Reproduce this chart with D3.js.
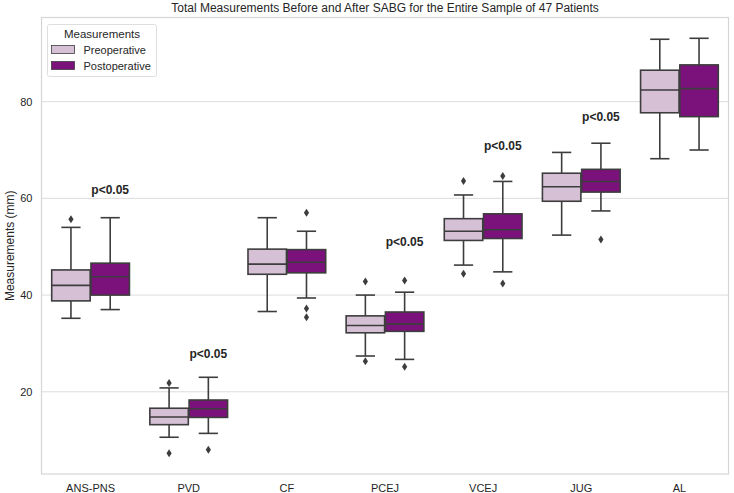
<!DOCTYPE html>
<html>
<head>
<meta charset="utf-8">
<script src="https://cdn.jsdelivr.net/npm/d3@7"></script>
<style>
  body { margin: 0; background: #fff; }
  svg { font-family: "Liberation Sans", Arial, sans-serif; }
</style>
</head>
<body>
<svg id="chart" width="734" height="493"></svg>
<script>
// categories and groups
const categories = ["ANS-PNS", "PVD", "CF", "PCEJ", "VCEJ", "JUG", "AL"];
const groups = ["Preoperative", "Postoperative"];
const groupColors = ["#d6c0d6", "#7b117b"];

// box stats: [whiskerLow, q1, median, q3, whiskerHigh]
const preStats = [
    [35.2, 38.8, 42.0, 45.2, 54.0],
    [10.6, 13.2, 14.8, 16.6, 20.8],
    [36.6, 44.3, 46.4, 49.5, 56.0],
    [27.4, 32.2, 33.7, 35.7, 40.0],
    [46.2, 51.3, 53.2, 55.8, 60.7],
    [52.4, 59.4, 62.4, 65.2, 69.5],
    [68.2, 77.7, 82.4, 86.5, 92.9]
];
const postStats = [
    [37.0, 40.0, 43.8, 46.6, 56.0],
    [11.4, 14.7, 16.5, 18.3, 23.0],
    [39.4, 44.6, 46.8, 49.4, 53.2],
    [26.7, 32.5, 34.0, 36.5, 40.6],
    [44.8, 51.7, 53.5, 56.8, 63.5],
    [57.4, 61.3, 63.5, 66.0, 71.4],
    [70.0, 76.9, 82.7, 87.6, 93.1]
];
// outliers
const preOutliers = [[55.7], [21.8, 7.3], [], [42.8, 26.3], [63.6, 44.4], [], []];
const postOutliers = [[], [8.0], [57.0, 37.2, 35.4], [43.0, 25.2], [64.6, 42.4], [51.5], []];

// significance labels (category, y value of text baseline)
const sigLabels = [
    ["ANS-PNS", 61.0],
    ["PVD", 27.0],
    ["PCEJ", 50.1],
    ["VCEJ", 70.0],
    ["JUG", 76.0]
];
const yTicks = [20, 40, 60, 80];

const svg = d3.select("#chart");
const margin = {left: 41.5, right: 5.5, top: 17.5, bottom: 19};
const width = 734 - margin.left - margin.right;
const height = 493 - margin.top - margin.bottom;

const g = svg.append("g").attr("transform", `translate(${margin.left},${margin.top})`);

const x = d3.scaleBand().domain(categories).range([0, width]).padding(0);
const xSub = d3.scaleBand().domain(groups).range([x.bandwidth() * 0.1, x.bandwidth() * 0.9]).padding(0);
const y = d3.scaleLinear().domain([3.0, 97.4]).range([height, 0]);

// gridlines
g.selectAll("line.grid")
    .data(yTicks)
    .join("line")
    .attr("class", "grid")
    .attr("x1", 0).attr("x2", width)
    .attr("y1", d => y(d)).attr("y2", d => y(d))
    .attr("stroke", "#dcdcdc")
    .attr("stroke-width", 1);

// frame
g.append("rect")
    .attr("x", 0).attr("y", 0)
    .attr("width", width).attr("height", height)
    .attr("fill", "none")
    .attr("stroke", "#d5d5d5")
    .attr("stroke-width", 1.2);

// y axis labels
const yAxis = g.append("g").call(d3.axisLeft(y).tickValues(yTicks).tickSize(0).tickPadding(9));
yAxis.select(".domain").remove();
yAxis.selectAll("text").attr("font-size", 11).attr("fill", "#262626").attr("font-family", "Liberation Sans, Arial, sans-serif");

// x axis labels
const xAxis = g.append("g")
    .attr("transform", `translate(0,${height})`)
    .call(d3.axisBottom(x).tickSize(0).tickPadding(10));
xAxis.select(".domain").remove();
xAxis.selectAll("text").attr("font-size", 11).attr("fill", "#262626").attr("font-family", "Liberation Sans, Arial, sans-serif");

const lineColor = "#3d3d3d";

// draw boxes
let boxData = [];
categories.forEach((c, i) => {
    boxData.push({cat: c, grp: groups[0], color: groupColors[0], s: preStats[i], out: preOutliers[i]});
    boxData.push({cat: c, grp: groups[1], color: groupColors[1], s: postStats[i], out: postOutliers[i]});
});

const bw = xSub.bandwidth() * 0.98;
const boxes = g.selectAll("g.box")
    .data(boxData)
    .join("g")
    .attr("class", "box")
    .attr("transform", d => `translate(${x(d.cat) + xSub(d.grp) + xSub.bandwidth() / 2},0)`);

// whiskers
boxes.append("line")
    .attr("x1", 0).attr("x2", 0)
    .attr("y1", d => y(d.s[0])).attr("y2", d => y(d.s[1]))
    .attr("stroke", lineColor).attr("stroke-width", 1.6);
boxes.append("line")
    .attr("x1", 0).attr("x2", 0)
    .attr("y1", d => y(d.s[3])).attr("y2", d => y(d.s[4]))
    .attr("stroke", lineColor).attr("stroke-width", 1.6);
// caps
boxes.append("line")
    .attr("x1", -bw / 4).attr("x2", bw / 4)
    .attr("y1", d => y(d.s[0])).attr("y2", d => y(d.s[0]))
    .attr("stroke", lineColor).attr("stroke-width", 1.6);
boxes.append("line")
    .attr("x1", -bw / 4).attr("x2", bw / 4)
    .attr("y1", d => y(d.s[4])).attr("y2", d => y(d.s[4]))
    .attr("stroke", lineColor).attr("stroke-width", 1.6);
// box
boxes.append("rect")
    .attr("x", -bw / 2)
    .attr("width", bw)
    .attr("y", d => y(d.s[3]))
    .attr("height", d => y(d.s[1]) - y(d.s[3]))
    .attr("fill", d => d.color)
    .attr("stroke", lineColor).attr("stroke-width", 1.6);
// median
boxes.append("line")
    .attr("x1", -bw / 2).attr("x2", bw / 2)
    .attr("y1", d => y(d.s[2])).attr("y2", d => y(d.s[2]))
    .attr("stroke", lineColor).attr("stroke-width", 1.6);
// outliers as thin diamonds
boxes.selectAll("path.out")
    .data(d => d.out)
    .join("path")
    .attr("class", "out")
    .attr("d", v => `M0,${y(v) - 4}L2.6,${y(v)}L0,${y(v) + 4}L-2.6,${y(v)}Z`)
    .attr("fill", lineColor);

// significance labels
g.selectAll("text.sig")
    .data(sigLabels)
    .join("text")
    .attr("class", "sig")
    .attr("x", d => x(d[0]) + xSub(groups[1]) + xSub.bandwidth() / 2)
    .attr("y", d => y(d[1]))
    .attr("text-anchor", "middle")
    .attr("font-size", 12)
    .attr("font-weight", "bold")
    .attr("fill", "#262626")
    .text("p<0.05");

// title
svg.append("text")
    .attr("x", margin.left + width / 2)
    .attr("y", 12)
    .attr("text-anchor", "middle")
    .attr("font-size", 12)
    .attr("fill", "#262626")
    .text("Total Measurements Before and After SABG for the Entire Sample of 47 Patients");

// y label
svg.append("text")
    .attr("transform", `translate(14,${margin.top + height / 2}) rotate(-90)`)
    .attr("text-anchor", "middle")
    .attr("font-size", 12)
    .attr("fill", "#262626")
    .text("Measurements (mm)");

// legend
const legend = svg.append("g").attr("transform", "translate(47.5,24.5)");
legend.append("rect")
    .attr("width", 109).attr("height", 52)
    .attr("rx", 2)
    .attr("fill", "#fff")
    .attr("stroke", "#dedede");
legend.append("text")
    .attr("x", 54.5).attr("y", 13)
    .attr("text-anchor", "middle")
    .attr("font-size", 11.5)
    .attr("fill", "#262626")
    .text("Measurements");
const li = legend.selectAll("g.item")
    .data(groups)
    .join("g")
    .attr("class", "item")
    .attr("transform", (d, i) => `translate(4,${21 + i * 16})`);
li.append("rect")
    .attr("width", 23).attr("height", 8)
    .attr("fill", (d, i) => groupColors[i])
    .attr("stroke", lineColor).attr("stroke-width", 0.8);
li.append("text")
    .attr("x", 32).attr("y", 8)
    .attr("font-size", 11)
    .attr("fill", "#262626")
    .text(d => d);
</script>
</body>
</html>
